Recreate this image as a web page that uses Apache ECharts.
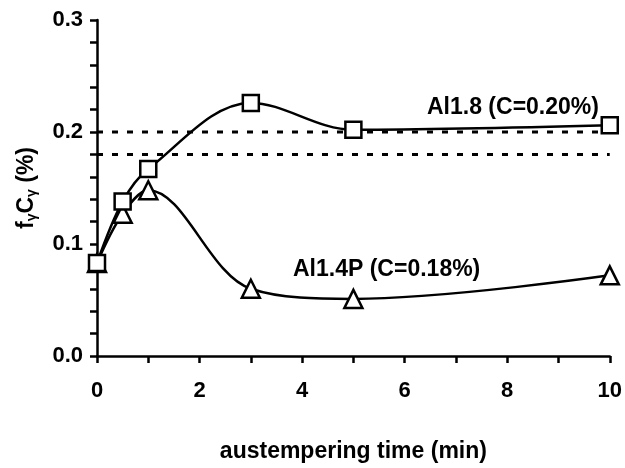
<!DOCTYPE html>
<html><head><meta charset="utf-8">
<script src="https://cdn.jsdelivr.net/npm/echarts@6/dist/echarts.min.js"></script>
<style>html,body{margin:0;padding:0;background:#fff}#c{width:625px;height:468px}</style>
</head><body><div id="c"></div>
<script>
const timeAl18 = [0, 0.5, 1, 3, 5, 10];
const valAl18 = [0.083, 0.138, 0.167, 0.226, 0.202, 0.206];
const timeAl14 = [0, 0.5, 1, 3, 5, 10];
const valAl14 = [0.083, 0.127, 0.148, 0.060, 0.051, 0.072];
const refLevels = [0.20, 0.18];
const labelAl18 = 'Al1.8 (C=0.20%)';
const labelAl14 = 'Al1.4P (C=0.18%)';
const xName = 'austempering time (min)';

const font = 'Liberation Sans, Arial, sans-serif';
const chart = echarts.init(document.getElementById('c'));
const pair = (xs, ys) => xs.map((x, i) => [x, ys[i]]);
const lineStyle = {color: '#000', width: 2.5};
const refSeries = refLevels.map(v => ({
  type: 'line', data: [[0, v], [10, v]], symbol: 'none', silent: true, z: 1,
  lineStyle: {color: '#000', width: 3, type: [6, 9]}
}));
chart.setOption({
  animation: false,
  grid: {left: 97, right: 15, top: 20, bottom: 111, containLabel: false},
  xAxis: {
    type: 'value', min: 0, max: 10, interval: 1,
    name: xName, nameLocation: 'middle', nameGap: 84,
    nameTextStyle: {fontFamily: font, fontWeight: 'bold', fontSize: 23, color: '#000'},
    axisLine: {lineStyle: {color: '#000', width: 2.5}, onZero: false},
    axisTick: {lineStyle: {color: '#000', width: 2.5}, length: 7},
    axisLabel: {fontFamily: font, fontWeight: 'bold', fontSize: 22, color: '#000', margin: 24,
      formatter: v => (Math.round(v) % 2 === 0 ? String(Math.round(v)) : '')},
    splitLine: {show: false}
  },
  yAxis: {
    type: 'value', min: 0, max: 0.3, interval: 0.02,
    name: 'f{s|γ}C{s|γ} (%)', nameLocation: 'middle', nameGap: 58, nameRotate: 90,
    nameTextStyle: {fontFamily: font, fontWeight: 'bold', fontSize: 23, color: '#000',
      rich: {s: {fontFamily: font, fontWeight: 'bold', fontSize: 14, color: '#000', verticalAlign: 'bottom', padding: [10, 0, 0, 0]}}},
    axisLine: {lineStyle: {color: '#000', width: 2.5}, onZero: false},
    axisTick: {lineStyle: {color: '#000', width: 2.5}, length: 7},
    axisLabel: {fontFamily: font, fontWeight: 'bold', fontSize: 22, color: '#000', margin: 14,
      formatter: v => (Math.abs(v * 10 - Math.round(v * 10)) < 1e-6 ? v.toFixed(1) : '')},
    splitLine: {show: false}
  },
  series: [
    ...refSeries,
    {type: 'line', name: labelAl14, data: pair(timeAl14, valAl14), smooth: 0.35, z: 3,
     symbol: 'triangle', symbolSize: 18, lineStyle,
     itemStyle: {color: '#fff', borderColor: '#000', borderWidth: 2.5}},
    {type: 'line', name: labelAl18, data: pair(timeAl18, valAl18), smooth: 0.35, z: 4,
     symbol: 'rect', symbolSize: 16, lineStyle,
     itemStyle: {color: '#fff', borderColor: '#000', borderWidth: 2.5}}
  ],
  graphic: [
    {type: 'text', x: 427, y: 108, style: {text: labelAl18, font: 'bold 23px ' + font, fill: '#000', verticalAlign: 'middle'}},
    {type: 'text', x: 293, y: 270, style: {text: labelAl14, font: 'bold 23px ' + font, fill: '#000', verticalAlign: 'middle'}}
  ]
});
</script></body></html>
